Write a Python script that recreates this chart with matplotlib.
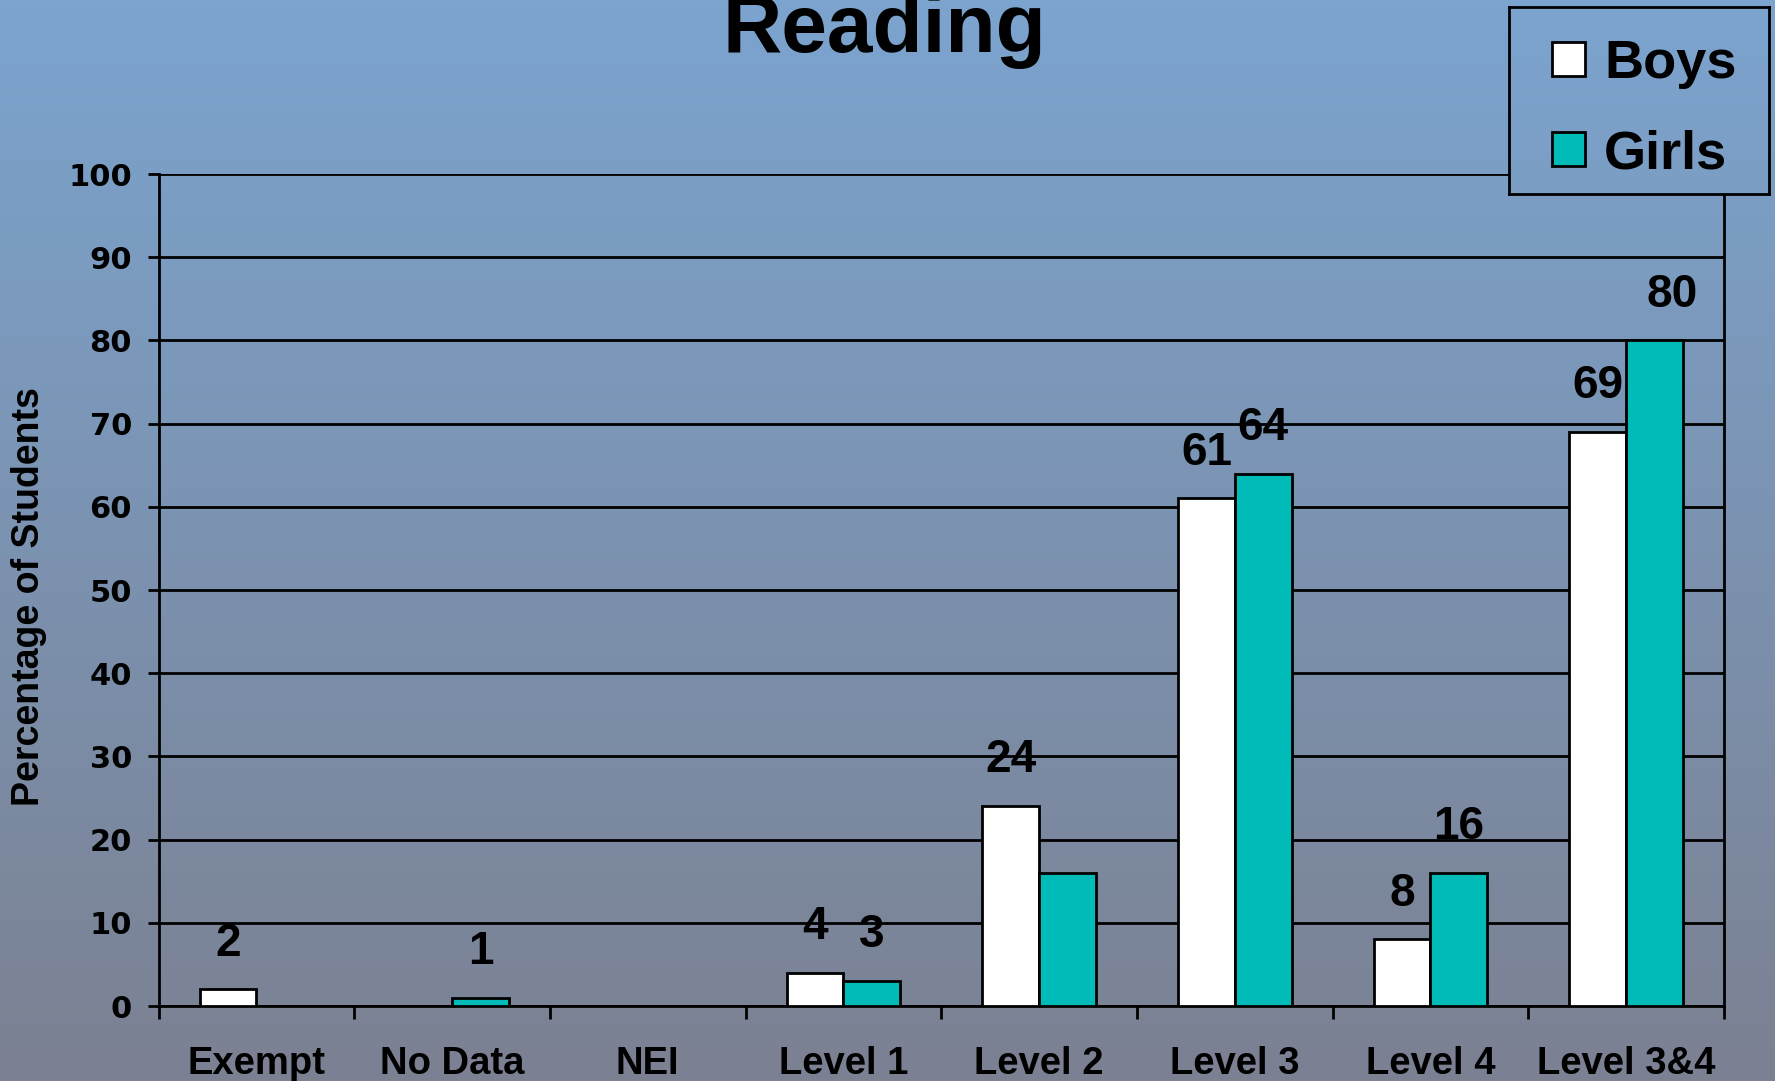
import numpy as np
import matplotlib
matplotlib.use("Agg")
import matplotlib.pyplot as plt
from matplotlib.patches import Patch

categories = ["Exempt", "No Data", "NEI", "Level 1", "Level 2", "Level 3", "Level 4", "Level 3&4"]
boys = [2, 0, 0, 4, 24, 61, 8, 69]
girls = [0, 1, 0, 3, 16, 64, 16, 80]
# labels shown in the original (None = no label drawn)
boys_labels = ["2", None, None, "4", "24", "61", "8", "69"]
girls_labels = [None, "1", None, "3", None, "64", "16", "80"]
yticks = [0, 10, 20, 30, 40, 50, 60, 70, 80, 90, 100]

BOYS_COLOR = "#FFFFFF"
GIRLS_COLOR = "#00BBB8"
W, H = 1775, 1081

plt.rcParams['font.family'] = ['Liberation Sans', 'DejaVu Sans']
plt.rcParams['font.weight'] = 'bold'

fig = plt.figure(figsize=(W / 100, H / 100), dpi=100)

top = np.array([123, 164, 207]) / 255
bot = np.array([124, 129, 146]) / 255


def gradient(t0, t1):
    t = np.linspace(t0, t1, 256)[:, None]
    return (top[None, :] * (1 - t) + bot[None, :] * t)[:, None, :]


# background gradient
bg = fig.add_axes([0, 0, 1, 1], zorder=-10)
bg.imshow(gradient(0, 1), aspect='auto', extent=[0, 1, 0, 1])
bg.axis('off')

left, right = 158.5 / W, 1724 / W
bottom, topf = 1 - 1006 / H, 1 - 174 / H
ax = fig.add_axes([left, bottom, right - left, topf - bottom])
ax.patch.set_alpha(0)

x = np.arange(len(categories))
bw = 0.29
ax.bar(x - bw / 2, boys, bw, color=BOYS_COLOR, edgecolor='black', linewidth=2, zorder=3)
ax.bar(x + bw / 2, girls, bw, color=GIRLS_COLOR, edgecolor='black', linewidth=2, zorder=3)

for i in range(len(categories)):
    if boys_labels[i]:
        ax.annotate(boys_labels[i], (x[i] - bw / 2, boys[i]), xytext=(0, 33), textcoords='offset points',
                    ha='center', va='center', fontsize=33, fontweight='bold')
    if girls_labels[i]:
        dx = 13 if girls_labels[i] == "80" else 0
        ax.annotate(girls_labels[i], (x[i] + bw / 2, girls[i]), xytext=(dx, 33), textcoords='offset points',
                    ha='center', va='center', fontsize=33, fontweight='bold')

ax.set_xlim(-0.5, len(categories) - 0.5)
ax.set_ylim(0, 100)
ax.set_yticks(yticks)
ax.set_yticklabels([str(v) for v in yticks], fontsize=22, fontweight='bold', family='DejaVu Sans')
ax.yaxis.grid(True, color='black', linewidth=2)
ax.set_axisbelow(True)
ax.tick_params(axis='y', length=8, width=2, pad=11)

ax.set_xticks(x)
ax.set_xticklabels(categories, fontsize=27.5, fontweight='bold')
ax.tick_params(axis='x', which='major', length=0, pad=29)
ax.set_xticks(np.arange(-0.5, len(categories), 1), minor=True)
ax.tick_params(axis='x', which='minor', length=9, width=2, direction='out')

for s in ['left', 'bottom', 'right']:
    ax.spines[s].set_linewidth(2)
    ax.spines[s].set_color('black')
ax.spines['top'].set_visible(False)

ax.set_ylabel("Percentage of Students", fontsize=27, fontweight='bold')
ax.yaxis.set_label_coords(-0.071, 0.492)

fig.text(884 / W, 1 - 52 / H, "Reading", ha='center', va='baseline', fontsize=59, fontweight='bold')

# legend box, filled with the background so the gridline stops at it
lx0, ly0, lx1, ly1 = 1509, 7, 1769, 194
lax = fig.add_axes([lx0 / W, 1 - ly1 / H, (lx1 - lx0) / W, (ly1 - ly0) / H], zorder=5)
lax.imshow(gradient(ly0 / H, ly1 / H), aspect='auto', extent=[0, 1, 0, 1])
lax.set_xticks([])
lax.set_yticks([])
for s in lax.spines.values():
    s.set_linewidth(2)
    s.set_color('black')

handles = [Patch(facecolor=BOYS_COLOR, edgecolor='black', linewidth=2, label='Boys'),
           Patch(facecolor=GIRLS_COLOR, edgecolor='black', linewidth=2, label='Girls')]
leg = lax.legend(handles=handles, loc='upper left', bbox_to_anchor=(1552 / W, 1 - 39 / H),
                 bbox_transform=fig.transFigure,
                 fontsize=39, frameon=False, handlelength=0.6, handleheight=0.6,
                 handletextpad=0.36, labelspacing=0.74, borderpad=0, borderaxespad=0)
for txt in leg.get_texts():
    txt.set_fontweight('bold')

fig.savefig("out.png", dpi=100)
